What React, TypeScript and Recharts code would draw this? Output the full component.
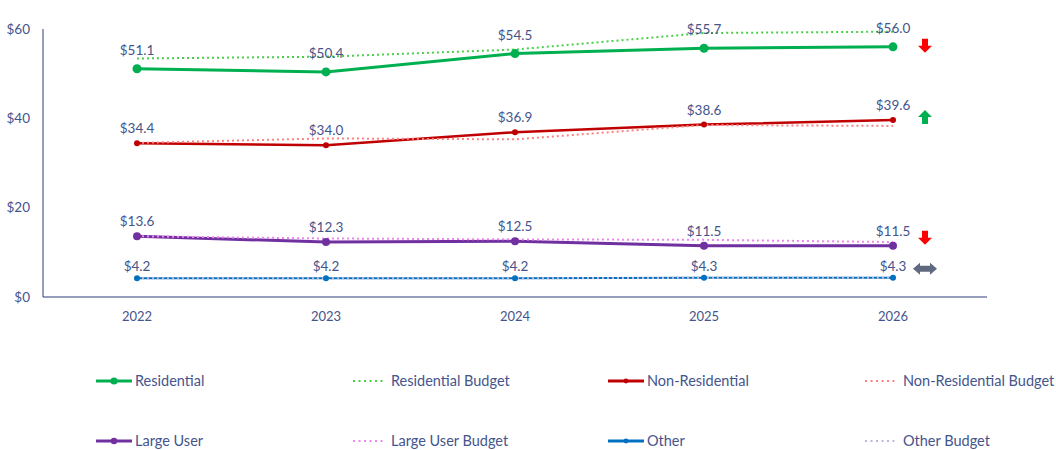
import { LineChart, Line, XAxis, YAxis, LabelList } from 'recharts';

const years = ['2022', '2023', '2024', '2025', '2026'];
const residential = [51.1, 50.4, 54.5, 55.7, 56.0];
const residentialBudget = [53.4, 53.8, 55.4, 59.1, 59.4];
const nonResidential = [34.4, 34.0, 36.9, 38.6, 39.6];
const nonResidentialBudget = [34.5, 35.5, 35.3, 38.5, 38.3];
const largeUser = [13.6, 12.3, 12.5, 11.5, 11.5];
const largeUserBudget = [13.6, 13.1, 12.9, 12.8, 12.3];
const other = [4.2, 4.2, 4.2, 4.3, 4.3];
const otherBudget = [4.2, 4.2, 4.2, 4.3, 4.3];
const yTicks = [0, 20, 40, 60];

const data = years.map((year, i) => ({
  year,
  residential: residential[i],
  residentialBudget: residentialBudget[i],
  nonResidential: nonResidential[i],
  nonResidentialBudget: nonResidentialBudget[i],
  largeUser: largeUser[i],
  largeUserBudget: largeUserBudget[i],
  other: other[i],
  otherBudget: otherBudget[i],
}));

const TEXT = '#44548c';
const AXIS = '#2f3b78';
const FONT = 'Lato, "Open Sans", sans-serif';

// actual series, each followed by its budget line
const SERIES = [
  { key: 'residential', name: 'Residential', color: '#00b050', width: 3, r: 4.5, labelOffset: 14, trend: 'down', arrowDy: -1 },
  { key: 'nonResidential', name: 'Non-Residential', color: '#c00000', width: 2.5, r: 3, labelOffset: 10, trend: 'up', arrowDy: -3 },
  { key: 'largeUser', name: 'Large User', color: '#7030a0', width: 3, r: 4, labelOffset: 10, trend: 'down', arrowDy: -8 },
  { key: 'other', name: 'Other', color: '#0070c0', width: 2, r: 3, labelOffset: 7, trend: 'flat', arrowDy: -9 },
];

const BUDGETS = [
  { key: 'residentialBudget', name: 'Residential Budget', color: '#47d147' },
  { key: 'nonResidentialBudget', name: 'Non-Residential Budget', color: '#ff8080' },
  { key: 'largeUserBudget', name: 'Large User Budget', color: '#ee88ee' },
  { key: 'otherBudget', name: 'Other Budget', color: '#b8b8dc' },
];

function arrowPoints(trend: string, cx: number, cy: number) {
  if (trend === 'down') {
    return [[cx - 3, cy - 7], [cx + 3, cy - 7], [cx + 3, cy], [cx + 7, cy], [cx, cy + 7], [cx - 7, cy], [cx - 3, cy]];
  }
  if (trend === 'up') {
    return [[cx - 3, cy + 7], [cx + 3, cy + 7], [cx + 3, cy], [cx + 7, cy], [cx, cy - 7], [cx - 7, cy], [cx - 3, cy]];
  }
  return [
    [cx - 12, cy], [cx - 5, cy - 6], [cx - 5, cy - 3], [cx + 5, cy - 3], [cx + 5, cy - 6],
    [cx + 12, cy], [cx + 5, cy + 6], [cx + 5, cy + 3], [cx - 5, cy + 3], [cx - 5, cy + 6],
  ];
}

const ARROW_COLORS: Record<string, string> = { down: '#ff0000', up: '#00b050', flat: '#5f6a80' };

function makeArrow(trend: string, dy: number) {
  return (props: any) => {
    const { x, y, index } = props;
    if (index !== years.length - 1) return null;
    const pts = arrowPoints(trend, x + 32, y + dy).map((p) => p.join(',')).join(' ');
    return <polygon points={pts} fill={ARROW_COLORS[trend]} />;
  };
}

function LegendRow({ items }: { items: { name: string; color: string; dotted: boolean; r?: number }[] }) {
  return (
    <div style={{ display: 'flex' }}>
      {items.map((it) => (
        <div key={it.name} style={{ width: 256, display: 'flex', alignItems: 'center' }}>
          <svg width={39} height={12} style={{ flexShrink: 0 }}>
            {it.dotted ? (
              <line x1={1} y1={6} x2={33} y2={6} stroke={it.color} strokeWidth={2} strokeDasharray="2 3.5" />
            ) : (
              <>
                <line x1={0} y1={6} x2={36} y2={6} stroke={it.color} strokeWidth={3} />
                <circle cx={18} cy={6} r={it.r ?? 3} fill={it.color} />
              </>
            )}
          </svg>
          <span style={{ color: TEXT, fontSize: 14.5, fontFamily: FONT, whiteSpace: 'nowrap' }}>{it.name}</span>
        </div>
      ))}
    </div>
  );
}

export default function App() {
  const legendItems = SERIES.flatMap((s, i) => [
    { name: s.name, color: s.color, dotted: false, r: s.r * 0.8 },
    { name: BUDGETS[i].name, color: BUDGETS[i].color, dotted: true },
  ]);

  return (
    <div style={{ position: 'absolute', left: 0, top: 0, width: 1056, height: 450, background: '#fff', overflow: 'hidden' }}>
      <LineChart width={1056} height={340} data={data} margin={{ top: 29, right: 69, left: 0, bottom: 0 }}>
        <XAxis
          dataKey="year"
          padding={{ left: 94, right: 94 }}
          tickLine={false}
          axisLine={{ stroke: AXIS }}
          tick={{ fill: TEXT, fontSize: 13, fontFamily: FONT }}
          tickMargin={9}
          height={43}
        />
        <YAxis
          domain={[0, 60]}
          ticks={yTicks}
          width={43}
          tickLine={false}
          axisLine={{ stroke: AXIS }}
          tick={{ fill: TEXT, fontSize: 13.5, fontFamily: FONT }}
          tickMargin={7}
          tickFormatter={(v: number) => `$${v}`}
        />
        {SERIES.map((s, i) => [
          <Line
            key={s.key}
            dataKey={s.key}
            name={s.name}
            stroke={s.color}
            strokeWidth={s.width}
            dot={{ r: s.r, fill: s.color, stroke: s.color, strokeWidth: 0 }}
            activeDot={false}
            isAnimationActive={false}
          >
            <LabelList
              dataKey={s.key}
              position="top"
              offset={s.labelOffset}
              formatter={(v: any) => `$${Number(v).toFixed(1)}`}
              style={{ fill: TEXT, fontSize: 13.5, fontFamily: FONT }}
            />
            <LabelList dataKey={s.key} content={makeArrow(s.trend, s.arrowDy)} />
          </Line>,
          <Line
            key={BUDGETS[i].key}
            dataKey={BUDGETS[i].key}
            name={BUDGETS[i].name}
            stroke={BUDGETS[i].color}
            strokeWidth={2}
            strokeDasharray="2 3"
            dot={false}
            activeDot={false}
            isAnimationActive={false}
          />,
        ])}
      </LineChart>
      <div style={{ position: 'absolute', left: 96, top: 372 }}>
        <LegendRow items={legendItems.slice(0, 4)} />
      </div>
      <div style={{ position: 'absolute', left: 96, top: 432 }}>
        <LegendRow items={legendItems.slice(4, 8)} />
      </div>
    </div>
  );
}
